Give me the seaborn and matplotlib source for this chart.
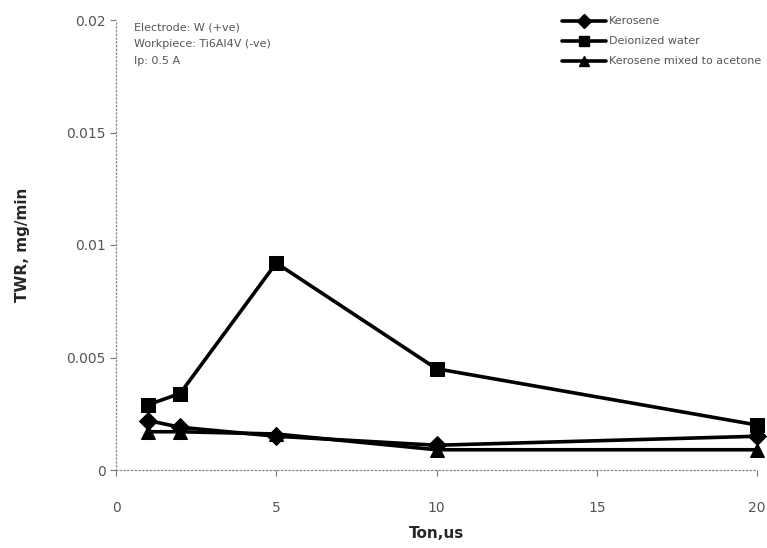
import matplotlib
matplotlib.use("Agg")
import matplotlib.pyplot as plt
import seaborn as sns
import pandas as pd
from matplotlib.lines import Line2D

ton = [1, 2, 5, 10, 20]
kerosene = [0.0022, 0.0019, 0.0015, 0.0011, 0.0015]
deionized = [0.0029, 0.0034, 0.0092, 0.0045, 0.0020]
mixed = [0.0017, 0.0017, 0.0016, 0.0009, 0.0009]
series_names = ["Kerosene", "Deionized water", "Kerosene mixed to acetone"]
x_ticks = [0, 5, 10, 15, 20]
y_ticks = [0, 0.005, 0.01, 0.015, 0.02]
y_ticklabels = ["0", "0.005", "0.01", "0.015", "0.02"]
notes = ["Electrode: W (+ve)", "Workpiece: Ti6Al4V (-ve)", "Ip: 0.5 A"]

rows = []
for name, vals in zip(series_names, [kerosene, deionized, mixed]):
    for t, v in zip(ton, vals):
        rows.append({"Ton": t, "TWR": v, "Fluid": name})
df = pd.DataFrame(rows)

sns.set_style("white")
plt.rcParams["font.family"] = ["DejaVu Sans"]

fig = plt.figure(figsize=(7.67, 5.48), dpi=100)
ax = fig.add_axes([116/767, 1 - 470/548, 641/767, 450/548])

markers = {"Kerosene": "D", "Deionized water": "s", "Kerosene mixed to acetone": "^"}
sns.lineplot(data=df, x="Ton", y="TWR", hue="Fluid", style="Fluid",
             markers=markers, dashes=False, palette=["black"] * 3,
             linewidth=2.6, markersize=9.5, markeredgecolor="black",
             ax=ax, legend=False, clip_on=False)

ax.set_xlim(0, 20)
ax.set_ylim(0, 0.02)
ax.set_xticks(x_ticks)
ax.set_yticks(y_ticks)
ax.set_yticklabels(y_ticklabels)
ax.tick_params(axis="both", labelsize=10, labelcolor="#555555", colors="#777777",
               length=4, width=0.8, direction="out", left=True, bottom=True)
ax.tick_params(axis="x", pad=18)
for side in ["top", "right"]:
    ax.spines[side].set_visible(False)
for side in ["left", "bottom"]:
    ax.spines[side].set_color("#888888")
    ax.spines[side].set_linestyle((0, (1, 2)))
    ax.spines[side].set_linewidth(0.9)

ax.set_xlabel("Ton,us", fontsize=11, fontweight="bold", labelpad=8)
ax.set_ylabel("TWR, mg/min", fontsize=11, fontweight="bold", labelpad=26)

for i, t in enumerate(notes):
    ax.text(0.028, 0.995 - i * 0.037, t, transform=ax.transAxes, fontsize=8,
            color="#555555", va="top", ha="left")

handles = [Line2D([0], [0], color="black", lw=2.6, marker=markers[n], markersize=7)
           for n in series_names]
leg = ax.legend(handles, series_names, loc="upper left", bbox_to_anchor=(0.68, 1.03),
                frameon=False, fontsize=8, handlelength=4, handletextpad=0.2,
                labelspacing=0.9, labelcolor="#555555")

fig.savefig("out.png", dpi=100, facecolor="white")
